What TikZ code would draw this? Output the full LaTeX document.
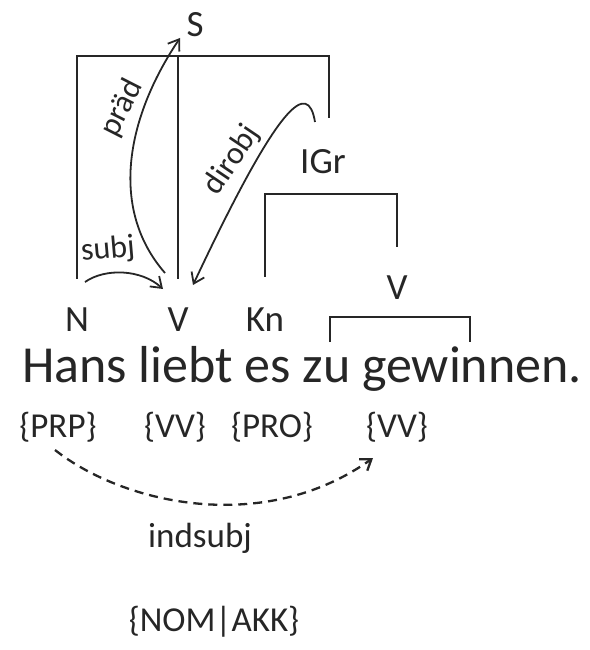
\documentclass[tikz,border=0pt]{standalone}
\usepackage{fontspec}
\setmainfont{Carlito}
\usetikzlibrary{arrows.meta,calc}
\begin{document}
\begin{tikzpicture}[x=1pt,y=-1pt,
  every node/.style={inner sep=0pt,text=black!85},
  cat/.style={font=\fontsize{37}{42}\selectfont},
  tag/.style={font=\fontsize{35}{40}\selectfont},
  rel/.style={font=\fontsize{32}{36}\selectfont},
  tree/.style={line width=2.4pt,black!85},
  dep/.style={line width=1.8pt,black!85,-{Straight Barb[length=10pt,width=14pt]}}]
  \useasboundingbox (0,0) rectangle (589,650);
  % categories
  \node[cat] (S) at (195,25) {S};
  \node[cat] (IGr) at (323,162) {IGr};
  \node[cat] (V2) at (397,288) {V};
  \node[cat] (N) at (77,320) {N};
  \node[cat] (V) at (178,320) {V};
  \node[cat] (Kn) at (265,320) {Kn};
  % sentence and tags
  \node[font=\fontsize{52}{60}\selectfont,anchor=base west] (sent) at (22,382) {Hans liebt es zu gewinnen.};
  \node[tag] (prp) at (58,427) {\{PRP\}};
  \node[tag] (vv) at (175,427) {\{VV\}};
  \node[tag] (pro) at (272,427) {\{PRO\}};
  \node[tag] (vv2) at (397,427) {\{VV\}};
  \node[tag] (case) at (214,622) {\{NOM|AKK\}};
  % tree
  \coordinate (top) at (0,56);
  \coordinate (ibar) at (0,194);
  \draw[tree,shorten <=29pt,shorten >=32pt] (N.north) -- (N.north |- top) -| ($(IGr.north)+(6,0)$);
  \draw[tree,shorten <=29pt] (V.north) -- (V.north |- top);
  \draw[tree,shorten <=31pt,shorten >=29pt] (Kn.north) -- (Kn.north |- ibar) -| (V2.north);
  \coordinate (zu) at (330,342);
  \coordinate (gew) at (470,342);
  \draw[tree] (zu) -- ++(0,-25) -| (gew);
  % dependencies
  \draw[dep] ($(N)+(8,-38)$) .. controls +(20,-14) and +(-22,-20) .. ($(V)+(-15,-31)$);
  \node[rel,rotate=5] (subj) at (108,250) {subj};
  \draw[dep] ($(V)+(-13,-47)$) .. controls (110,210) and (125,120) .. ($(S)+(-15,13)$);
  \node[rel,rotate=63] (praed) at (122,108) {präd};
  \draw[dep] ($(IGr)+(-8,-40)$) .. controls (308,80) and (280,100) .. ($(V)+(15,-35)$);
  \node[rel,rotate=56] (dirobj) at (232,160) {dirobj};
  \draw[dep,line width=2.3pt,dash pattern=on 9pt off 6pt] ($(prp)+(-3,23)$) .. controls (125,505) and (265,535) .. ($(vv2)+(-24,31)$);
  \node[tag] (indsubj) at (200,538) {indsubj};
\end{tikzpicture}
\end{document}
